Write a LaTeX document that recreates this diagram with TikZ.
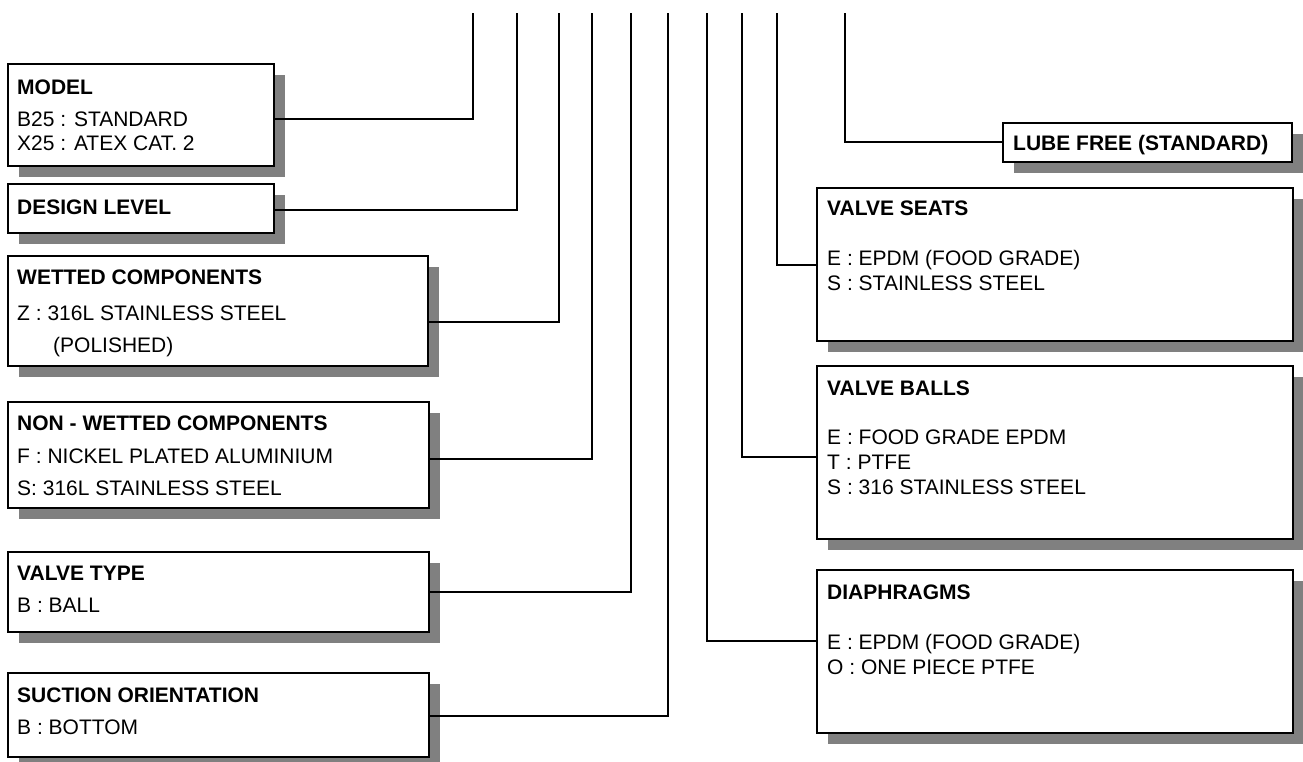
\documentclass[tikz,border=0pt]{standalone}
\usepackage{fontspec}
\setmainfont{Liberation Sans}
\usetikzlibrary{shadows}
\definecolor{shadowgray}{HTML}{808080}
\begin{document}
\begin{tikzpicture}[x=1pt,y=-1pt,
  box/.style={draw=black, line width=2.3pt, fill=white, inner sep=0pt, outer sep=0pt, anchor=north west,
    drop shadow={shadow xshift=11pt, shadow yshift=-11pt, fill=shadowgray, opacity=1}},
  txt/.style={anchor=west, inner sep=0pt, text height=15pt, text depth=0pt, font=\fontsize{21}{25}\selectfont},
  ttl/.style={txt, font=\fontsize{21}{25}\selectfont\bfseries},
  conn/.style={draw=black, line width=2.2pt, line join=miter}]
\useasboundingbox (0,0) rectangle (1303,761);
\clip (0,0) rectangle (1303,761);

% ---- left boxes ----
\node[box, minimum width=266pt, minimum height=102pt] (model) at (8,64) {};
\node[ttl] (modelT) at (17,87) {MODEL};
\node[txt] (modelA) at (17,119) {B25 : STANDARD};
\node[txt] (modelB) at (17,143) {X25 : ATEX CAT. 2};

\node[box, minimum width=266pt, minimum height=49pt] (design) at (8,184) {};
\node[ttl] (designT) at (17,207) {DESIGN LEVEL};

\node[box, minimum width=420pt, minimum height=110pt] (wetted) at (8,256) {};
\node[ttl] (wettedT) at (17,277) {WETTED COMPONENTS};
\node[txt] (wettedA) at (17,313) {Z : 316L STAINLESS STEEL};
\node[txt] (wettedB) at (53,345) {(POLISHED)};

\node[box, minimum width=421pt, minimum height=106pt] (nonwet) at (8,402) {};
\node[ttl] (nonwetT) at (17,423) {NON - WETTED COMPONENTS};
\node[txt] (nonwetA) at (17,456) {F : NICKEL PLATED ALUMINIUM};
\node[txt] (nonwetB) at (17,488) {S: 316L STAINLESS STEEL};

\node[box, minimum width=421pt, minimum height=80pt] (vtype) at (8,552) {};
\node[ttl] (vtypeT) at (17,573) {VALVE TYPE};
\node[txt] (vtypeA) at (17,605) {B : BALL};

\node[box, minimum width=421pt, minimum height=84pt] (suction) at (8,673) {};
\node[ttl] (suctionT) at (17,695) {SUCTION ORIENTATION};
\node[txt] (suctionA) at (17,727) {B : BOTTOM};

% ---- right boxes ----
\node[box, minimum width=289pt, minimum height=39pt] (lube) at (1003,123) {};
\node[ttl] (lubeT) at (1013,143) {LUBE FREE (STANDARD)};

\node[box, minimum width=476pt, minimum height=153pt] (seats) at (817,188) {};
\node[ttl] (seatsT) at (827,208) {VALVE SEATS};
\node[txt] (seatsA) at (827,258) {E : EPDM (FOOD GRADE)};
\node[txt] (seatsB) at (827,283) {S : STAINLESS STEEL};

\node[box, minimum width=476pt, minimum height=173pt] (balls) at (817,366) {};
\node[ttl] (ballsT) at (827,388) {VALVE BALLS};
\node[txt] (ballsA) at (827,437) {E : FOOD GRADE EPDM};
\node[txt] (ballsB) at (827,462) {T : PTFE};
\node[txt] (ballsC) at (827,487) {S : 316 STAINLESS STEEL};

\node[box, minimum width=476pt, minimum height=163pt] (diaph) at (817,570) {};
\node[ttl] (diaphT) at (827,592) {DIAPHRAGMS};
\node[txt] (diaphA) at (827,642) {E : EPDM (FOOD GRADE)};
\node[txt] (diaphB) at (827,667) {O : ONE PIECE PTFE};

% ---- connector corners and top ends ----
\coordinate (kModel) at (473,119);   \coordinate (tModel) at (473,13);
\coordinate (kDesign) at (517,210);  \coordinate (tDesign) at (517,13);
\coordinate (kWetted) at (559,322);  \coordinate (tWetted) at (559,13);
\coordinate (kNonwet) at (592,459);  \coordinate (tNonwet) at (592,13);
\coordinate (kVtype) at (631,592);   \coordinate (tVtype) at (631,13);
\coordinate (kSuction) at (668,716); \coordinate (tSuction) at (668,13);
\coordinate (kDiaph) at (707,641);   \coordinate (tDiaph) at (707,13);
\coordinate (kBalls) at (742,457);   \coordinate (tBalls) at (742,13);
\coordinate (kSeats) at (777,265);   \coordinate (tSeats) at (777,13);
\coordinate (kLube) at (845,142);    \coordinate (tLube) at (845,13);

\draw[conn] (model.east |- kModel) -- (kModel) -- (tModel);
\draw[conn] (design.east |- kDesign) -- (kDesign) -- (tDesign);
\draw[conn] (wetted.east |- kWetted) -- (kWetted) -- (tWetted);
\draw[conn] (nonwet.east |- kNonwet) -- (kNonwet) -- (tNonwet);
\draw[conn] (vtype.east |- kVtype) -- (kVtype) -- (tVtype);
\draw[conn] (suction.east |- kSuction) -- (kSuction) -- (tSuction);
\draw[conn] (diaph.west |- kDiaph) -- (kDiaph) -- (tDiaph);
\draw[conn] (balls.west |- kBalls) -- (kBalls) -- (tBalls);
\draw[conn] (seats.west |- kSeats) -- (kSeats) -- (tSeats);
\draw[conn] (lube.west |- kLube) -- (kLube) -- (tLube);
\end{tikzpicture}
\end{document}
